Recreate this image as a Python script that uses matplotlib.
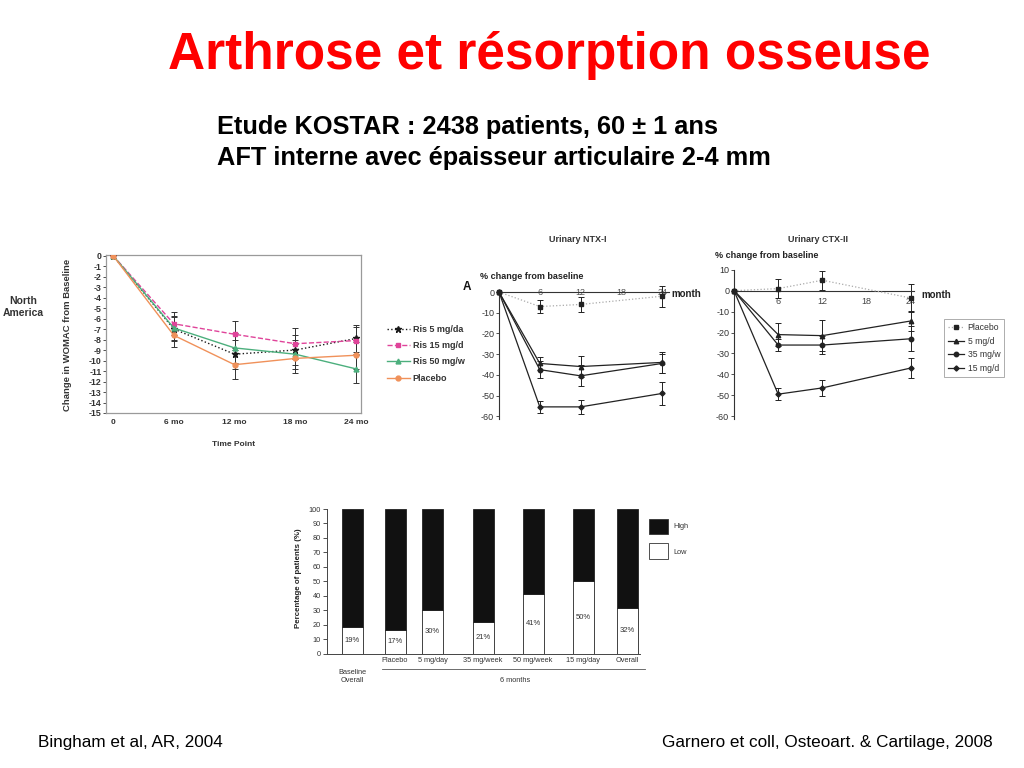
import matplotlib
matplotlib.use("Agg")
import matplotlib.pyplot as plt
from matplotlib import font_manager
from matplotlib.patches import Rectangle
from matplotlib.lines import Line2D

# ---------------- data ----------------
# WOMAC (Bingham et al.)
womac_labels = ["0", "6 mo", "12 mo", "18 mo", "24 mo"]
ris5 = [0, -7.0, -9.4, -9.0, -7.9]
ris15 = [0, -6.5, -7.5, -8.4, -8.1]
ris50 = [0, -6.9, -8.8, -9.4, -10.8]
womac_placebo = [0, -7.6, -10.4, -9.8, -9.5]
ris5_err = [0, 1.1, 1.4, 1.4, 1.3]
ris15_err = [0, 1.1, 1.3, 1.5, 1.3]
ris50_err = [0, 1.1, 1.4, 1.4, 1.3]
womac_placebo_err = [0, 1.1, 1.4, 1.4, 1.3]
womac_legend = ["Ris 5 mg/da", "Ris 15 mg/d", "Ris 50 mg/w", "Placebo"]

# Urinary NTX-I
ntx_months = [0, 6, 12, 24]
ntx_placebo = [0, -7, -6, -2]
ntx_5 = [0, -34.5, -36, -34]
ntx_35 = [0, -37.5, -40.5, -34.5]
ntx_15 = [0, -55.5, -55.5, -49]
ntx_placebo_err = [0, 3, 3.5, 5]
ntx_5_err = [0, 3, 5, 5]
ntx_35_err = [0, 4, 5, 4.5]
ntx_15_err = [0, 3, 3.5, 5.5]

# Urinary CTX-II
ctx_months = [0, 6, 12, 24]
ctx_placebo = [0, 1, 5, -3.5]
ctx_5 = [0, -21, -21.5, -14.5]
ctx_35 = [0, -26, -26, -23]
ctx_15 = [0, -49.5, -46.5, -37]
ctx_placebo_err = [0, 4.5, 4.5, 6.5]
ctx_5_err = [0, 5.5, 7.5, 5]
ctx_35_err = [0, 3, 4.5, 6]
ctx_15_err = [0, 3, 4, 5]
ctx_legend = ["Placebo", "5 mg/d", "35 mg/w", "15 mg/d"]
month_ticks = [6, 12, 18, 24]

# Bar chart (Garnero et al.)
bar_categories = ["Baseline\nOverall", "Placebo", "5 mg/day", "35 mg/week",
                  "50 mg/week", "15 mg/day", "Overall"]
low_pct = [18, 16, 30, 21.5, 41, 50, 31.5]
low_labels = ["19%", "17%", "30%", "21%", "41%", "50%", "32%"]
high_pct = [100 - v for v in low_pct]

# ---------------- figure ----------------
W, H = 1024, 768
fig = plt.figure(figsize=(10.24, 7.68), dpi=100)
fig.patch.set_facecolor("white")

names = {f.name for f in font_manager.fontManager.ttflist}
SANS = "Liberation Sans" if "Liberation Sans" in names else "DejaVu Sans"
NARROW = "Liberation Sans Narrow" if "Liberation Sans Narrow" in names else SANS
plt.rcParams["font.family"] = [SANS, "DejaVu Sans"]
plt.rcParams["axes.unicode_minus"] = False


def fx(x):
    return x / W


def fy(y):
    return 1 - y / H


def add_ax(l, t, r, b):
    return fig.add_axes([l / W, 1 - b / H, (r - l) / W, (b - t) / H])


# ---------------- titles ----------------
fig.text(fx(549), fy(69.3), "Arthrose et résorption osseuse", ha="center",
         va="baseline", fontsize=37, fontweight="bold", color="#ff0000")
fig.text(fx(217), fy(134), "Etude KOSTAR : 2438 patients, 60 ± 1 ans",
         ha="left", va="baseline", fontsize=18.3, fontweight="bold", color="black")
fig.text(fx(217), fy(165), "AFT interne avec épaisseur articulaire 2-4 mm",
         ha="left", va="baseline", fontsize=18.3, fontweight="bold", color="black")
fig.text(fx(38), fy(747), "Bingham et al, AR, 2004", ha="left", va="baseline",
         fontsize=12.3, color="black")
fig.text(fx(993), fy(747), "Garnero et coll, Osteoart. & Cartilage, 2008",
         ha="right", va="baseline", fontsize=12.3, color="black")

# ---------------- WOMAC chart ----------------
ax1 = add_ax(106, 255, 361, 413)
xs = list(range(len(womac_labels)))
womac_series = [
    (ris5, ris5_err, "#1a1a1a", ":", "*", 4.5),
    (ris15, ris15_err, "#e0449a", "--", "s", 3.5),
    (ris50, ris50_err, "#4caf7d", "-", "^", 3.5),
    (womac_placebo, womac_placebo_err, "#f0915a", "-", "o", 3.5),
]
handles1 = []
for vals, err, col, ls, mk, ms in womac_series:
    ax1.errorbar(xs[1:], vals[1:], yerr=err[1:], fmt="none", ecolor="#333333",
                 elinewidth=0.7, capsize=2, capthick=0.7, zorder=2)
    ln, = ax1.plot(xs, vals, color=col, ls=ls, lw=1.0, marker=mk, ms=ms,
                   mfc=col, mec=col, zorder=3)
    handles1.append(ln)
ax1.set_xlim(-0.115, 4.08)
ax1.set_ylim(-15, 0.05)
ax1.set_xticks(xs)
ax1.set_xticklabels(womac_labels)
ax1.set_yticks(list(range(0, -16, -1)))
for sp in ax1.spines.values():
    sp.set_color("#9a9a9a")
    sp.set_linewidth(0.9)
ax1.tick_params(axis="x", length=0, pad=4.6, labelsize=6, colors="#333333")
ax1.tick_params(axis="y", length=2, width=0.6, pad=1, labelsize=6.3,
                colors="#333333")
for lab in ax1.get_xticklabels() + ax1.get_yticklabels():
    lab.set_fontweight("bold")
    lab.set_family([NARROW, SANS])
fig.text(fx(234), fy(444), "Time Point", ha="center", va="center",
         fontsize=6, fontweight="bold", color="#333333")
fig.text(fx(68), fy(335), "Change in WOMAC from Baseline", ha="center",
         va="center", rotation=90, fontsize=6.8, fontweight="bold",
         color="#333333")
fig.text(fx(23), fy(301), "North", ha="center", va="center", fontsize=7.5,
         fontweight="bold", color="#333333")
fig.text(fx(23), fy(313), "America", ha="center", va="center", fontsize=7.5,
         fontweight="bold", color="#333333")
leg1 = ax1.legend(handles1, womac_legend, loc="upper left",
                  bbox_to_anchor=(fx(387), fy(325)),
                  bbox_transform=fig.transFigure, frameon=False,
                  fontsize=6.5, labelspacing=0.8, handlelength=2.5,
                  handletextpad=0.35, borderpad=0, borderaxespad=0)
for t in leg1.get_texts():
    t.set_fontweight("bold")
    t.set_color("#333333")


# ---------------- helper for urinary marker charts ----------------
def marker_chart(ax, months, series, ylow, yhigh, yticks):
    handles = []
    for vals, err, col, lcol, ls, mk, ms in series:
        ax.errorbar(months[1:], vals[1:], yerr=err[1:], fmt="none",
                    ecolor="#222222", elinewidth=0.7, capsize=2.5,
                    capthick=0.7, zorder=2, clip_on=False)
        ln, = ax.plot(months, vals, color=lcol, ls=ls, lw=0.9, marker=mk,
                      ms=ms, mfc=col, mec=col, zorder=3, clip_on=False)
        handles.append(ln)
    ax.spines["top"].set_visible(False)
    ax.spines["right"].set_visible(False)
    ax.spines["bottom"].set_position(("data", 0))
    ax.spines["left"].set_bounds(ylow, yhigh)
    for s in ("left", "bottom"):
        ax.spines[s].set_color("#333333")
        ax.spines[s].set_linewidth(0.8)
    ax.set_yticks(yticks)
    ax.set_xticks(month_ticks)
    ax.patch.set_alpha(0)
    return handles


urinary_styles = [
    ("#222222", "#aaaaaa", ":", "s", 3.2),
    ("#222222", "#222222", "-", "^", 3.2),
    ("#222222", "#222222", "-", "o", 3.2),
    ("#222222", "#222222", "-", "D", 2.6),
]

# NTX-I
ax2 = add_ax(499, 281.7, 669, 422.4)
ntx_series = [
    (ntx_placebo, ntx_placebo_err) + urinary_styles[0],
    (ntx_5, ntx_5_err) + urinary_styles[1],
    (ntx_35, ntx_35_err) + urinary_styles[2],
    (ntx_15, ntx_15_err) + urinary_styles[3],
]
marker_chart(ax2, ntx_months, ntx_series, -61.5, 0, [0, -10, -20, -30, -40, -50, -60])
ax2.set_xlim(0, 25)
ax2.set_ylim(-63, 5)
ax2.spines["bottom"].set_bounds(0, 25)
ax2.tick_params(axis="y", length=2, width=0.6, pad=1.5, labelsize=6.5,
                colors="#333333")
ax2.tick_params(axis="x", length=0, pad=-2.8, labelsize=6.5, colors="#555555")
ax2.text(25.3, -1, "month", ha="left", va="center", fontsize=7,
         fontweight="bold", color="#222222")
fig.text(fx(578), fy(240), "Urinary NTX-I", ha="center", va="center",
         fontsize=6.5, fontweight="bold", color="#333333")
fig.text(fx(480), fy(277), "% change from baseline", ha="left", va="center",
         fontsize=6.5, fontweight="bold", color="#222222")
fig.text(fx(467), fy(287), "A", ha="center", va="center", fontsize=8.5,
         fontweight="bold", color="#111111")

# CTX-II
ax3 = add_ax(734, 265.6, 913.6, 422.4)
ctx_series = [
    (ctx_placebo, ctx_placebo_err) + urinary_styles[0],
    (ctx_5, ctx_5_err) + urinary_styles[1],
    (ctx_35, ctx_35_err) + urinary_styles[2],
    (ctx_15, ctx_15_err) + urinary_styles[3],
]
handles3 = marker_chart(ax3, ctx_months, ctx_series, -61.5, 10,
                        [10, 0, -10, -20, -30, -40, -50, -60])
ax3.set_xlim(0, 24.4)
ax3.set_ylim(-63, 12)
ax3.tick_params(axis="y", length=2, width=0.6, pad=1.5, labelsize=6.5,
                colors="#333333")
ax3.tick_params(axis="x", length=0, pad=4.3, labelsize=6.5, colors="#444444")
ax3.text(25.5, -2, "month", ha="left", va="center", fontsize=7,
         fontweight="bold", color="#222222")
fig.text(fx(818), fy(240), "Urinary CTX-II", ha="center", va="center",
         fontsize=6.5, fontweight="bold", color="#333333")
fig.text(fx(715), fy(256), "% change from baseline", ha="left", va="center",
         fontsize=6.5, fontweight="bold", color="#222222")
leg3 = ax3.legend(handles3, ctx_legend, loc="upper left",
                  bbox_to_anchor=(fx(944), fy(319)),
                  bbox_transform=fig.transFigure, frameon=True, fancybox=False,
                  fontsize=6.2, labelspacing=0.55, handlelength=1.9,
                  handletextpad=0.4, borderpad=0.45, borderaxespad=0)
leg3.get_frame().set_edgecolor("#888888")
leg3.get_frame().set_linewidth(0.6)
for t in leg3.get_texts():
    t.set_color("#333333")

# ---------------- bar chart ----------------
ax4 = add_ax(327, 509, 640, 653.5)
bar_pos = [25, 68, 105.5, 156, 206, 256.5, 300.5]
ax4.bar(bar_pos, low_pct, width=21, color="white", edgecolor="#222222",
        linewidth=0.6)
ax4.bar(bar_pos, high_pct, bottom=low_pct, width=21, color="#111111",
        edgecolor="#222222", linewidth=0.6)
for p, v, lab in zip(bar_pos, low_pct, low_labels):
    ax4.text(p, v / 2, lab, ha="center", va="center", fontsize=5.5,
             color="#333333")
ax4.set_xlim(0, 313)
ax4.set_ylim(0, 100)
ax4.set_yticks(list(range(0, 101, 10)))
ax4.set_xticks(bar_pos[1:])
ax4.set_xticklabels(bar_categories[1:])
ax4.spines["top"].set_visible(False)
ax4.spines["right"].set_visible(False)
for s in ("left", "bottom"):
    ax4.spines[s].set_color("#444444")
    ax4.spines[s].set_linewidth(0.7)
ax4.tick_params(axis="y", length=3, width=0.6, pad=1.5, labelsize=5.3,
                colors="#333333")
ax4.tick_params(axis="x", length=0, pad=2.5, labelsize=5.3, colors="#333333")
ax4.text(bar_pos[0], -16, bar_categories[0], ha="center", va="center",
         fontsize=5.3, color="#333333", linespacing=1.1)
fig.text(fx(299), fy(578), "Percentage of patients (%)", ha="center",
         va="center", rotation=90, fontsize=5.7, fontweight="bold",
         color="#222222")
fig.add_artist(Line2D([fx(382), fx(645)], [fy(669), fy(669)], color="#555555",
                      lw=0.6))
fig.text(fx(515), fy(681), "6 months", ha="center", va="center", fontsize=5.3,
         color="#333333")
fig.add_artist(Rectangle((fx(649), fy(534)), fx(19), 15 / H,
                         transform=fig.transFigure, facecolor="#111111",
                         edgecolor="#333333", lw=0.6))
fig.add_artist(Rectangle((fx(649), fy(559)), fx(19), 16 / H,
                         transform=fig.transFigure, facecolor="white",
                         edgecolor="#333333", lw=0.6))
fig.text(fx(673), fy(527), "High", ha="left", va="center", fontsize=5.3,
         color="#333333")
fig.text(fx(673), fy(552), "Low", ha="left", va="center", fontsize=5.3,
         color="#333333")

fig.savefig("out.png", dpi=100, facecolor="white")
